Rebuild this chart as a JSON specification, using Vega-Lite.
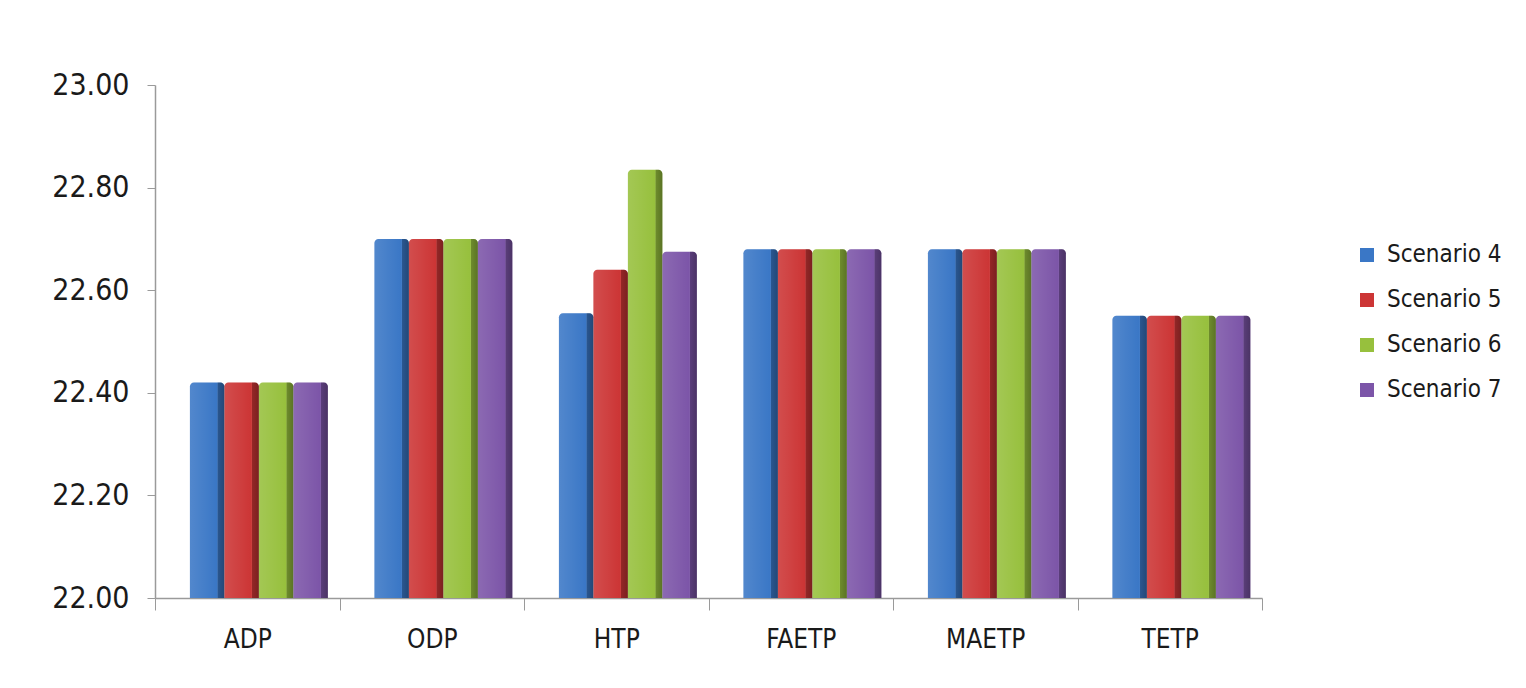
{
  "$schema": "https://vega.github.io/schema/vega-lite/v6.json",
  "autosize": {"type": "none"},
  "width": 1107,
  "height": 513,
  "padding": {"left": 155, "top": 85, "right": 264, "bottom": 90},
  "background": "white",
  "config": {
    "font": "DejaVu Sans Condensed, Open Sans, sans-serif",
    "view": {"stroke": null}
  },
  "data": {
    "values": [
      {"category": "ADP", "scenario": "Scenario 4", "value": 22.42},
      {"category": "ADP", "scenario": "Scenario 5", "value": 22.42},
      {"category": "ADP", "scenario": "Scenario 6", "value": 22.42},
      {"category": "ADP", "scenario": "Scenario 7", "value": 22.42},
      {"category": "ODP", "scenario": "Scenario 4", "value": 22.70},
      {"category": "ODP", "scenario": "Scenario 5", "value": 22.70},
      {"category": "ODP", "scenario": "Scenario 6", "value": 22.70},
      {"category": "ODP", "scenario": "Scenario 7", "value": 22.70},
      {"category": "HTP", "scenario": "Scenario 4", "value": 22.555},
      {"category": "HTP", "scenario": "Scenario 5", "value": 22.64},
      {"category": "HTP", "scenario": "Scenario 6", "value": 22.835},
      {"category": "HTP", "scenario": "Scenario 7", "value": 22.675},
      {"category": "FAETP", "scenario": "Scenario 4", "value": 22.68},
      {"category": "FAETP", "scenario": "Scenario 5", "value": 22.68},
      {"category": "FAETP", "scenario": "Scenario 6", "value": 22.68},
      {"category": "FAETP", "scenario": "Scenario 7", "value": 22.68},
      {"category": "MAETP", "scenario": "Scenario 4", "value": 22.68},
      {"category": "MAETP", "scenario": "Scenario 5", "value": 22.68},
      {"category": "MAETP", "scenario": "Scenario 6", "value": 22.68},
      {"category": "MAETP", "scenario": "Scenario 7", "value": 22.68},
      {"category": "TETP", "scenario": "Scenario 4", "value": 22.55},
      {"category": "TETP", "scenario": "Scenario 5", "value": 22.55},
      {"category": "TETP", "scenario": "Scenario 6", "value": 22.55},
      {"category": "TETP", "scenario": "Scenario 7", "value": 22.55}
    ]
  },
  "encoding": {
    "x": {
      "field": "category",
      "type": "nominal",
      "sort": null,
      "scale": {"paddingInner": 0, "paddingOuter": 0},
      "axis": {
        "title": null,
        "labelAngle": 0,
        "labelFontSize": 26,
        "labelColor": "#1a1a1a",
        "labelPadding": 16,
        "tickBand": "extent",
        "tickSize": 12,
        "tickColor": "#9a9a9a",
        "domainColor": "#9a9a9a",
        "domainWidth": 1.5
      }
    },
    "xOffset": {
      "field": "scenario",
      "type": "nominal",
      "scale": {"paddingInner": 0, "paddingOuter": 0.675, "align": 0.75}
    },
    "y": {
      "field": "value",
      "type": "quantitative",
      "scale": {"domain": [22, 23], "zero": false},
      "axis": {
        "title": null,
        "values": [22, 22.2, 22.4, 22.6, 22.8, 23],
        "format": ".2f",
        "grid": false,
        "labelFontSize": 30,
        "labelColor": "#1a1a1a",
        "labelPadding": 18,
        "tickSize": 8,
        "tickColor": "#9a9a9a",
        "domainColor": "#9a9a9a",
        "domainWidth": 1.5
      }
    },
    "y2": {"datum": 22}
  },
  "layer": [
    {
      "mark": {"type": "bar", "cornerRadiusTopLeft": 4, "cornerRadiusTopRight": 4},
      "encoding": {
        "color": {
          "field": "scenario",
          "type": "nominal",
          "scale": {
            "domain": ["Scenario 4", "Scenario 5", "Scenario 6", "Scenario 7"],
            "range": ["#3a77c6", "#cc3535", "#97c03d", "#7c55a8"]
          },
          "legend": {
            "title": null,
            "orient": "none",
            "legendX": 1200,
            "legendY": 158,
            "symbolType": "square",
            "symbolSize": 196,
            "symbolStrokeWidth": 0,
            "labelFontSize": 24,
            "labelColor": "#1a1a1a",
            "labelOffset": 8,
            "rowPadding": 21
          }
        }
      }
    },
    {
      "mark": {
        "type": "bar",
        "cornerRadiusTopLeft": 4,
        "cornerRadiusTopRight": 4,
        "fill": {
          "gradient": "linear",
          "x1": 0, "y1": 0, "x2": 1, "y2": 0,
          "stops": [
            {"offset": 0, "color": "rgba(255,255,255,0.12)"},
            {"offset": 0.78, "color": "rgba(255,255,255,0)"},
            {"offset": 0.81, "color": "rgba(0,0,0,0.28)"},
            {"offset": 1, "color": "rgba(0,0,0,0.4)"}
          ]
        }
      }
    }
  ]
}
